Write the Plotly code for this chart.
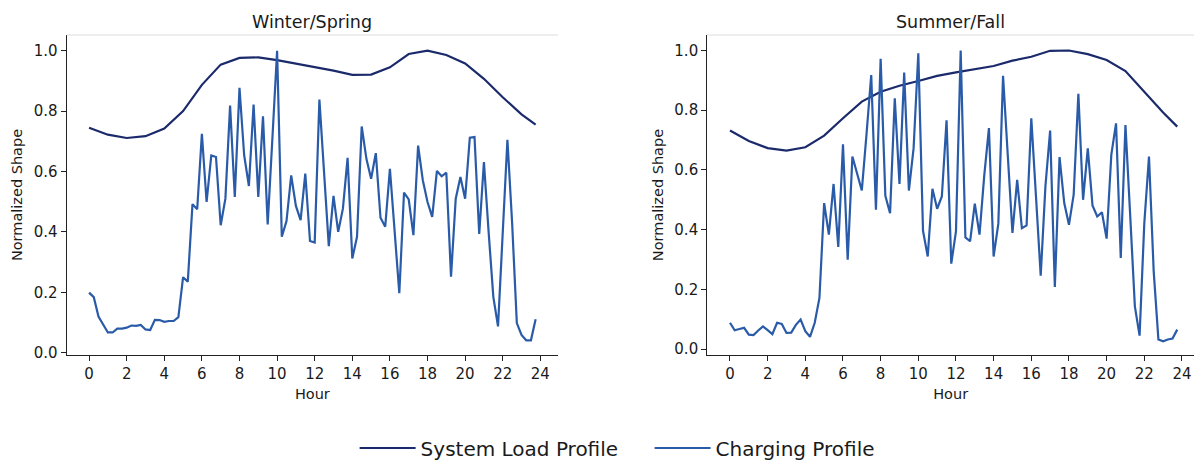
import plotly.graph_objects as go

# Hourly system load (normalized), last point at 23:45
load_hours = [0, 1, 2, 3, 4, 5, 6, 7, 8, 9, 10, 11, 12, 13, 14, 15, 16, 17, 18, 19, 20, 21, 22, 23, 23.75]
load_winter = [0.745, 0.722, 0.711, 0.717, 0.742, 0.800, 0.887, 0.954, 0.976, 0.978, 0.969, 0.958, 0.947,
               0.934, 0.920, 0.921, 0.945, 0.989, 1.000, 0.986, 0.958, 0.907, 0.846, 0.789, 0.755]
load_summer = [0.732, 0.697, 0.673, 0.665, 0.676, 0.715, 0.773, 0.829, 0.862, 0.882, 0.898, 0.915, 0.927,
               0.937, 0.948, 0.966, 0.979, 0.999, 1.000, 0.988, 0.968, 0.931, 0.862, 0.792, 0.745]

# 15-minute charging profile (normalized)
charge_hours = [i * 0.25 for i in range(96)]
charge_winter = [
    0.199, 0.184, 0.120, 0.092, 0.067, 0.067, 0.080, 0.080,
    0.083, 0.090, 0.089, 0.092, 0.077, 0.075, 0.109, 0.108,
    0.102, 0.105, 0.105, 0.118, 0.250, 0.235, 0.492, 0.475,
    0.725, 0.499, 0.653, 0.648, 0.422, 0.510, 0.818, 0.516,
    0.877, 0.653, 0.552, 0.822, 0.516, 0.783, 0.425, 0.710,
    1.000, 0.384, 0.436, 0.587, 0.486, 0.439, 0.593, 0.370,
    0.365, 0.838, 0.600, 0.353, 0.519, 0.400, 0.477, 0.645,
    0.312, 0.384, 0.749, 0.642, 0.576, 0.661, 0.447, 0.417,
    0.609, 0.410, 0.197, 0.530, 0.508, 0.389, 0.686, 0.571,
    0.499, 0.450, 0.602, 0.584, 0.596, 0.252, 0.510, 0.582,
    0.510, 0.712, 0.714, 0.393, 0.631, 0.400, 0.185, 0.087,
    0.400, 0.705, 0.430, 0.098, 0.059, 0.041, 0.041, 0.111,
]
charge_summer = [
    0.088, 0.063, 0.067, 0.071, 0.048, 0.047, 0.062, 0.076,
    0.063, 0.050, 0.088, 0.084, 0.054, 0.055, 0.081, 0.099,
    0.060, 0.041, 0.088, 0.171, 0.489, 0.383, 0.553, 0.342,
    0.686, 0.299, 0.645, 0.589, 0.531, 0.720, 0.918, 0.467,
    0.972, 0.513, 0.455, 0.840, 0.553, 0.926, 0.531, 0.673,
    0.991, 0.396, 0.310, 0.537, 0.470, 0.511, 0.766, 0.286,
    0.394, 1.000, 0.374, 0.361, 0.487, 0.383, 0.580, 0.740,
    0.310, 0.420, 0.915, 0.650, 0.389, 0.567, 0.405, 0.414,
    0.773, 0.510, 0.246, 0.545, 0.732, 0.208, 0.643, 0.489,
    0.416, 0.517, 0.855, 0.500, 0.672, 0.481, 0.444, 0.458,
    0.370, 0.651, 0.756, 0.305, 0.750, 0.450, 0.143, 0.045,
    0.420, 0.645, 0.260, 0.032, 0.026, 0.032, 0.035, 0.065,
]

x_ticks = list(range(0, 25, 2))
y_ticks = [0.0, 0.2, 0.4, 0.6, 0.8, 1.0]

LOAD_COLOR = "#1b2a6b"
CHARGE_COLOR = "#2a5ba8"
TEXT_COLOR = "#1a1a1a"
FONT = "DejaVu Sans"

fig = go.Figure()

panels = [
    ("x", "y", load_winter, charge_winter, True),
    ("x2", "y2", load_summer, charge_summer, False),
]
for xa, ya, load, charge, show in panels:
    fig.add_trace(go.Scatter(x=load_hours, y=load, mode="lines", name="System Load Profile",
                             line=dict(color=LOAD_COLOR, width=2.2), xaxis=xa, yaxis=ya,
                             showlegend=show, legendgroup="load"))
    fig.add_trace(go.Scatter(x=charge_hours, y=charge, mode="lines", name="Charging Profile",
                             line=dict(color=CHARGE_COLOR, width=2.2), xaxis=xa, yaxis=ya,
                             showlegend=show, legendgroup="charge"))

W, H = 1194, 462
y_dom = [107 / H, 427 / H]
x_dom1 = [66.7 / W, 558 / W]
x_dom2 = [707.3 / W, 1.0]

axis_common = dict(
    showgrid=False, zeroline=False, showline=True, linecolor="#222222", linewidth=1.2,
    ticks="outside", ticklen=5, tickwidth=1.2, tickcolor="#222222",
    tickfont=dict(family=FONT, size=15, color=TEXT_COLOR), automargin=False,
)
title_font = dict(family=FONT, size=14.5, color=TEXT_COLOR)

fig.update_layout(
    width=W, height=H,
    margin=dict(l=0, r=0, t=0, b=0, autoexpand=False),
    paper_bgcolor="white", plot_bgcolor="white",
    font=dict(family=FONT, color=TEXT_COLOR),
    xaxis=dict(domain=x_dom1, anchor="y", range=[-1.19, 24.94], tickvals=x_ticks,
               title=dict(text="Hour", font=title_font, standoff=6), **axis_common),
    yaxis=dict(domain=y_dom, anchor="x", range=[-0.0076, 1.052], tickvals=y_ticks,
               tickformat=".1f", title=dict(text="Normalized Shape", font=title_font, standoff=7),
               **axis_common),
    xaxis2=dict(domain=x_dom2, anchor="y2", range=[-1.205, 24.64], tickvals=x_ticks,
                title=dict(text="Hour", font=title_font, standoff=6), **axis_common),
    yaxis2=dict(domain=y_dom, anchor="x2", range=[-0.02, 1.052], tickvals=y_ticks,
                tickformat=".1f", title=dict(text="Normalized Shape", font=title_font, standoff=7),
                **axis_common),
    legend=dict(orientation="h", x=0.297, xanchor="left", y=14 / H, yanchor="middle",
                font=dict(family=FONT, size=20, color=TEXT_COLOR), entrywidth=224,
                itemwidth=56, bgcolor="rgba(0,0,0,0)"),
    showlegend=True,
)

# Light top border for each panel
for xr, yr in [("x domain", "y domain"), ("x2 domain", "y2 domain")]:
    fig.add_shape(type="line", xref=xr, yref=yr, x0=0, x1=1, y0=1, y1=1,
                  line=dict(color="#dddddd", width=1.2))

# Panel titles
for xd, text in [(x_dom1, "Winter/Spring"), (x_dom2, "Summer/Fall")]:
    fig.add_annotation(text=text, xref="paper", yref="paper", x=(xd[0] + xd[1]) / 2,
                       y=1 - 22 / H, xanchor="center", yanchor="middle", showarrow=False,
                       font=dict(family=FONT, size=17.5, color=TEXT_COLOR))

fig.write_html("out.html")
